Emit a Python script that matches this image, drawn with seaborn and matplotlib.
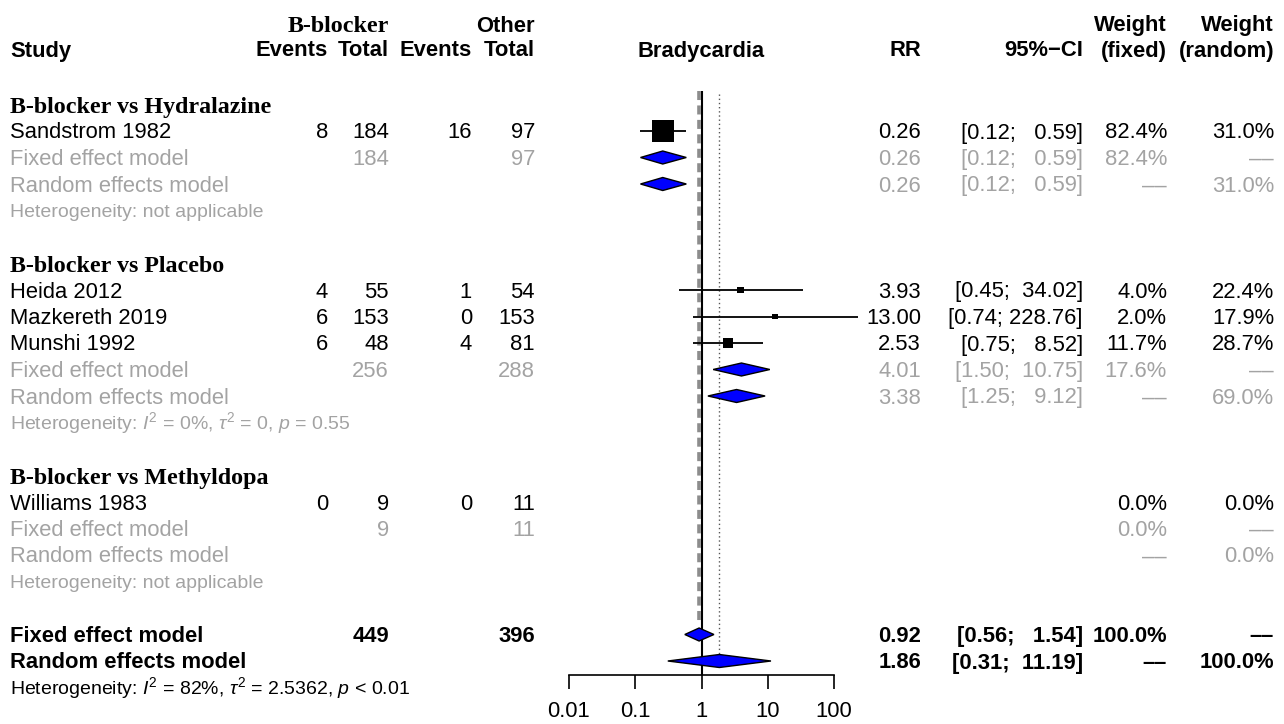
import numpy as np
import pandas as pd
import matplotlib
matplotlib.use("Agg")
import matplotlib.pyplot as plt
from matplotlib.ticker import NullLocator
import seaborn as sns

# ---- study level data -------------------------------------------------
studies = ["Sandstrom 1982", "Heida 2012", "Mazkereth 2019", "Munshi 1992", "Williams 1983"]
bb_events = [8, 4, 6, 6, 0]
bb_total = [184, 55, 153, 48, 9]
oth_events = [16, 1, 0, 4, 0]
oth_total = [97, 54, 153, 81, 11]
rr = [0.26, 3.93, 13.00, 2.53, np.nan]
ci_lo = [0.12, 0.45, 0.74, 0.75, np.nan]
ci_hi = [0.59, 34.02, 228.76, 8.52, np.nan]
w_fixed = [82.4, 4.0, 2.0, 11.7, 0.0]
w_random = [31.0, 22.4, 17.9, 28.7, 0.0]

# ---- subgroups ----------------------------------------------------------
groups = ["B-blocker vs Hydralazine", "B-blocker vs Placebo", "B-blocker vs Methyldopa"]
group_members = [[0], [1, 2, 3], [4]]
sub_bb_total = [184, 256, 9]
sub_oth_total = [97, 288, 11]
sub_fe_rr = [0.26, 4.01, np.nan]
sub_fe_lo = [0.12, 1.50, np.nan]
sub_fe_hi = [0.59, 10.75, np.nan]
sub_fe_w = [82.4, 17.6, 0.0]
sub_re_rr = [0.26, 3.38, np.nan]
sub_re_lo = [0.12, 1.25, np.nan]
sub_re_hi = [0.59, 9.12, np.nan]
sub_re_w = [31.0, 69.0, 0.0]
sub_het = ["Heterogeneity: not applicable",
           r"Heterogeneity: $I^2$ = 0%, $\tau^2$ = 0, $p$ = 0.55",
           "Heterogeneity: not applicable"]

# ---- overall pooled results --------------------------------------------
all_bb_total = 449
all_oth_total = 396
fe_rr, fe_lo, fe_hi = 0.92, 0.56, 1.54
re_rr, re_lo, re_hi = 1.86, 0.31, 11.19
overall_het = r"Heterogeneity: $I^2$ = 82%, $\tau^2$ = 2.5362, $p$ < 0.01"

ticks = [0.01, 0.1, 1, 10, 100]
tick_labels = ["0.01", "0.1", "1", "10", "100"]

# ---- style --------------------------------------------------------------
sns.set_theme(style="white")
plt.rcParams["font.family"] = ["Liberation Sans", "DejaVu Sans"]
plt.rcParams["mathtext.fontset"] = "custom"
plt.rcParams["mathtext.rm"] = "Liberation Sans"
plt.rcParams["mathtext.it"] = "Liberation Sans:italic"
plt.rcParams["mathtext.bf"] = "Liberation Sans:bold"

FS = 15.8
FS_HET = 14
FS_SERIF = 17.3
GREY = "#a3a3a3"
SERIF = ["Liberation Serif", "DejaVu Serif"]
DASH = "\u2013\u2013"

W, H = 1284, 724
fig = plt.figure(figsize=(W / 100, H / 100), dpi=100)
fig.patch.set_facecolor("white")

# table layer in pixel units
tab = fig.add_axes([0, 0, 1, 1])
tab.set_xlim(0, W)
tab.set_ylim(H, 0)
tab.axis("off")

# forest panel with a log axis 0.01 .. 100
X0, X1 = 569, 834
fx = fig.add_axes([X0 / W, 0, (X1 - X0) / W, 1])
fx.patch.set_alpha(0)


def row_y(k):
    return 25 + 26.5 * k


# column anchors (right aligned)
C_NAME = 10
C_BE, C_BT, C_OE, C_OT = 328, 389, 472, 535
C_RR, C_CI, C_WF, C_WR = 921, 1083, 1167, 1274
BASE = 7.5  # baseline offset below row centre


def put(x, y, s, ha="right", color="black", weight="normal", size=FS, family=None):
    kw = {}
    if family is not None:
        kw["family"] = family
    tab.text(x, y + BASE * size / FS, s, ha=ha, va="baseline", color=color,
             fontweight=weight, fontsize=size, **kw)


def fmt_w(w):
    return DASH if w is None else f"{w:.1f}%"


def put_stats(y, est, lo, hi, wf, wr, color="black", weight="normal"):
    if not np.isnan(est):
        put(C_RR, y, f"{est:.2f}", color=color, weight=weight)
        put(C_CI, y, f"[{lo:.2f}; {hi:6.2f}]", color=color, weight=weight)
    put(C_WF, y, fmt_w(wf), color=color, weight=weight)
    put(C_WR, y, fmt_w(wr), color=color, weight=weight)


def diamond(est, lo, hi, y, h=6.5):
    fx.fill([lo, est, hi, est], [y, y - h, y, y + h], facecolor="#0000ff",
            edgecolor="black", lw=1.0, clip_on=False, zorder=4)


# ---- headers -------------------------------------------------------------
put(C_BT, 24, "B-blocker", weight="bold", family=SERIF, size=FS_SERIF)
put(C_OT, 24, "Other", weight="bold")
put(C_NAME, 49, "Study", ha="left", weight="bold")
for x in (C_BE, C_OE):
    put(x, 49, "Events", weight="bold")
for x in (C_BT, C_OT):
    put(x, 49, "Total", weight="bold")
put(701, 49, "Bradycardia", ha="center", weight="bold")
put(C_RR, 49, "RR", weight="bold")
put(C_CI, 49, "95%\u2212CI", weight="bold")
put(C_WF, 24, "Weight", weight="bold")
put(C_WF, 49, "(fixed)", weight="bold")
put(C_WR, 24, "Weight", weight="bold")
put(C_WR, 49, "(random)", weight="bold")

# ---- body ----------------------------------------------------------------
study_y = {}
k = 3
for g, name in enumerate(groups):
    put(C_NAME, row_y(k), name, ha="left", weight="bold", family=SERIF, size=FS_SERIF)
    k += 1
    for i in group_members[g]:
        y = row_y(k)
        study_y[i] = y
        put(C_NAME, y, studies[i], ha="left")
        put(C_BE, y, str(bb_events[i]))
        put(C_BT, y, str(bb_total[i]))
        put(C_OE, y, str(oth_events[i]))
        put(C_OT, y, str(oth_total[i]))
        put_stats(y, rr[i], ci_lo[i], ci_hi[i], w_fixed[i], w_random[i])
        k += 1
    # subgroup pooled rows
    yf, yr, yh = row_y(k), row_y(k + 1), row_y(k + 2)
    put(C_NAME, yf, "Fixed effect model", ha="left", color=GREY)
    put(C_BT, yf, str(sub_bb_total[g]), color=GREY)
    put(C_OT, yf, str(sub_oth_total[g]), color=GREY)
    put_stats(yf, sub_fe_rr[g], sub_fe_lo[g], sub_fe_hi[g], sub_fe_w[g], None, color=GREY)
    put(C_NAME, yr, "Random effects model", ha="left", color=GREY)
    put_stats(yr, sub_re_rr[g], sub_re_lo[g], sub_re_hi[g], None, sub_re_w[g], color=GREY)
    put(C_NAME, yh, sub_het[g], ha="left", color=GREY, size=FS_HET)
    if not np.isnan(sub_fe_rr[g]):
        diamond(sub_fe_rr[g], sub_fe_lo[g], sub_fe_hi[g], yf)
        diamond(sub_re_rr[g], sub_re_lo[g], sub_re_hi[g], yr)
    k += 4

# overall rows
yf, yr, yh = row_y(k), row_y(k + 1), row_y(k + 2)
put(C_NAME, yf, "Fixed effect model", ha="left", weight="bold")
put(C_BT, yf, str(all_bb_total), weight="bold")
put(C_OT, yf, str(all_oth_total), weight="bold")
put_stats(yf, fe_rr, fe_lo, fe_hi, 100.0, None, weight="bold")
put(C_NAME, yr, "Random effects model", ha="left", weight="bold")
put_stats(yr, re_rr, re_lo, re_hi, None, 100.0, weight="bold")
put(C_NAME, yh, overall_het, ha="left", size=FS_HET)
diamond(fe_rr, fe_lo, fe_hi, yf)
diamond(re_rr, re_lo, re_hi, yr)

# ---- study estimates -----------------------------------------------------
idx = [i for i in range(len(studies)) if not np.isnan(rr[i])]
df = pd.DataFrame({
    "rr": [rr[i] for i in idx],
    "lo": [ci_lo[i] for i in idx],
    "hi": [ci_hi[i] for i in idx],
    "w": [w_fixed[i] for i in idx],
    "y": [study_y[i] for i in idx],
})
fx.hlines(df["y"], df["lo"], df["hi"], colors="black", lw=1.3, clip_on=False, zorder=2)
wmin, wmax = min(df["w"]), max(df["w"])
sns.scatterplot(data=df, x="rr", y="y", size="w", sizes=(18, 250),
                size_norm=(wmin, wmax), marker="s", color="black", linewidth=0,
                legend=False, ax=fx, zorder=3, clip_on=False)

# reference lines: pooled fixed (dashed), null (solid), pooled random (dotted)
fx.vlines(fe_rr, 91, 624, colors="#8c8c8c", linestyles=(0, (2.5, 1.5)), lw=2.6, zorder=1)
fx.vlines(1, 91, 675, colors="black", lw=1.5, zorder=1.5)
fx.vlines(re_rr, 94, 655, colors="#555555", linestyles=(0, (1, 2)), lw=1.0, zorder=1)

# ---- axis ----------------------------------------------------------------
fx.set_xscale("log")
fx.set_xlim(0.01, 100)
fx.set_ylim(H, 0)
fx.set_xlabel("")
fx.set_ylabel("")
fx.set_yticks([])
for s in ("top", "left", "right"):
    fx.spines[s].set_visible(False)
fx.spines["bottom"].set_position(("data", 675))
fx.spines["bottom"].set_color("black")
fx.spines["bottom"].set_linewidth(1.2)
fx.set_xticks(ticks)
fx.set_xticklabels(tick_labels)
fx.xaxis.set_minor_locator(NullLocator())
fx.tick_params(axis="x", which="major", direction="out", length=10, width=1.2,
               pad=9, labelsize=FS, colors="black", bottom=True)

fig.savefig("out.png", dpi=100, facecolor="white")
